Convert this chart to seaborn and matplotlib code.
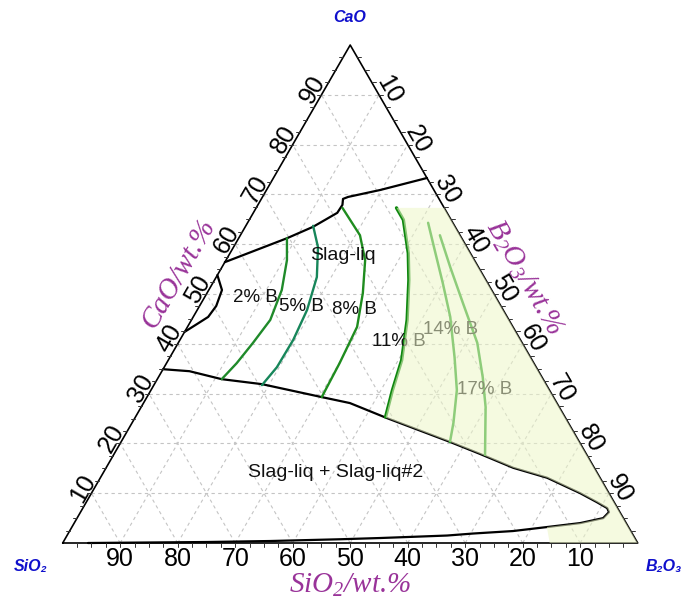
import numpy as np
import pandas as pd
import matplotlib
matplotlib.use("Agg")
import matplotlib.pyplot as plt
import seaborn as sns

# ---------------- data (wt.%) ----------------
# upper boundary of Slag-liq field
top_cao = [56.4, 61.2, 63.5, 66.3, 67.9, 69.1, 69.5, 70.9, 73.3]
top_b2o3 = [0.0, 8.4, 11.8, 14.6, 14.7, 14.2, 14.9, 19.8, 26.7]
# small lens near CaO-SiO2 edge
lens_cao = [53.8, 50.8, 47.6, 45.4, 44.0, 42.4]
lens_b2o3 = [0.0, 2.3, 2.9, 2.6, 1.4, 0.0]
# miscibility gap Slag-liq + Slag-liq#2 (upper branch, tip, lower branch)
gap_cao = [34.9, 34.5, 32.9, 31.9, 29.3, 28.1, 25.1, 20.3, 17.9, 15.1, 13.1, 10.0,
           8.2, 7.0, 6.2, 5.0, 4.0, 3.2, 2.4, 1.9, 1.5, 1.2, 1.0, 0.75, 0.4, 0.2, 0.0]
gap_b2o3 = [0.0, 4.8, 11.2, 18.7, 30.4, 35.9, 43.8, 57.2, 63.6, 70.8, 77.7, 85.0,
            88.8, 91.2, 91.9, 91.5, 88.0, 82.6, 77.1, 70.4, 66.1, 59.3, 54.7, 47.8, 35.9, 25.0, 4.4]
# B isopleths
iso_labels = ["2% B", "5% B", "8% B", "11% B", "14% B", "17% B"]
iso_cao = [
    [61.2, 56.8, 50.8, 44.8, 40.2, 36.1, 32.9],
    [63.7, 59.4, 53.4, 46.8, 40.8, 35.3, 31.7],
    [67.3, 61.8, 56.8, 50.2, 43.4, 36.1, 29.3],
    [67.3, 64.9, 58.2, 52.8, 44.8, 36.7, 30.7, 25.3],
    [64.3, 58.8, 52.2, 45.4, 37.3, 30.7, 24.1, 20.3],
    [61.8, 55.4, 48.2, 40.2, 33.3, 27.3, 17.7],
]
iso_b2o3 = [
    [8.4, 10.6, 12.7, 13.7, 13.0, 12.2, 11.2],
    [11.7, 14.7, 17.5, 19.1, 19.7, 19.6, 18.8],
    [15.0, 20.8, 24.2, 27.1, 29.5, 30.1, 30.4],
    [24.4, 26.8, 31.0, 33.8, 37.5, 40.6, 42.0, 43.5],
    [31.4, 35.3, 40.0, 44.7, 49.5, 53.2, 55.9, 57.2],
    [34.7, 39.7, 45.5, 52.0, 56.4, 59.9, 64.6],
]
# label anchor compositions (CaO, B2O3)
iso_lab_cao = [49.4, 47.4, 46.8, 40.4, 42.8, 30.9]
iso_lab_b2o3 = [8.8, 17.9, 27.4, 38.3, 46.0, 57.9]
# field labels
field_labels = ["Slag-liq", "Slag-liq + Slag-liq#2"]
field_cao = [57.8, 14.1]
field_b2o3 = [19.9, 40.4]
# shaded region top (CaO level) and where it leaves the lower branch to the base
shade_top_cao = 67.3
shade_base_b2o3 = 84.7
ticks_major = [10, 20, 30, 40, 50, 60, 70, 80, 90]

# ---------------- style ----------------
sns.set_theme(style="white")
plt.rcParams['font.family'] = ['Liberation Sans', 'DejaVu Sans']
plt.rcParams['mathtext.fontset'] = 'custom'
plt.rcParams['mathtext.rm'] = 'Liberation Serif:italic'
plt.rcParams['mathtext.it'] = 'Liberation Serif:italic'

SQ = np.sqrt(3) / 2


def tern(cao, b2o3):
    c = np.asarray(cao, float) / 100.0
    b = np.asarray(b2o3, float) / 100.0
    return b + c / 2, c * SQ


def px(xp, yp):
    return (xp - 62.7) / 575, (543 - yp) / 575


fig = plt.figure(figsize=(6.91, 6.04), dpi=100)
ax = fig.add_axes([0, 0, 1, 1])
ax.set_xlim(-62.7 / 575, (691 - 62.7) / 575)
ax.set_ylim(-(604 - 543) / 575, 543 / 575)
ax.axis('off')

# grid
gkw = dict(color='#c4c4c4', lw=0.8, ls=(0, (3, 3)), zorder=1)
for v in ticks_major:
    x, y = tern([v, v], [0, 100 - v]); ax.plot(x, y, **gkw)
    x, y = tern([0, 100 - v], [v, v]); ax.plot(x, y, **gkw)
    x, y = tern([0, 100 - v], [100 - v, 0]); ax.plot(x, y, **gkw)

# outline
x, y = tern([0, 0, 100, 0], [0, 100, 0, 0])
ax.plot(x, y, color='black', lw=1.2, zorder=5)

# small ticks every 2.5
tl = 4 / 575
for t in np.arange(2.5, 100, 2.5):
    x, y = tern(0, t); ax.plot([x, x], [y, y - tl], color='#333333', lw=0.7, zorder=5)
    x, y = tern(t, 0); ax.plot([x, x - tl], [y, y], color='#333333', lw=0.7, zorder=5)
    x, y = tern(100 - t, t); ax.plot([x, x + tl], [y, y], color='#333333', lw=0.7, zorder=5)

# tick labels
tkw = dict(fontsize=18, color='black', ha='center', va='center',
           textcoords='offset points', zorder=6)
for v in ticks_major:
    x, y = tern(0, 100 - v)   # SiO2 = v on base
    ax.annotate(str(v), (x, y), xytext=(0, -11.8), **tkw)
    x, y = tern(v, 0)         # CaO on left edge
    ax.annotate(str(v), (x, y), xytext=(-6.1, 3.6), rotation=60, **tkw)
    x, y = tern(100 - v, v)   # B2O3 on right edge
    ax.annotate(str(v), (x, y), xytext=(7.6, 3.6), rotation=-60, **tkw)


# phase boundaries
def line(cao, b2o3, color, lw, z=3):
    x, y = tern(cao, b2o3)
    sns.lineplot(x=x, y=y, sort=False, estimator=None, color=color,
                 linewidth=lw, ax=ax, legend=False, zorder=z)


line(top_cao, top_b2o3, 'black', 1.6)
line(lens_cao, lens_b2o3, 'black', 1.6)
line(gap_cao, gap_b2o3, 'black', 1.6)

iso_colors = ['#1f8a2a', '#17865a', '#1f8c1f', '#0e870e', '#1c9a1c', '#1c9a1c']
iso_lw = [1.7, 1.7, 1.7, 2.4, 1.8, 1.8]
for cc, bb, col, lw in zip(iso_cao, iso_b2o3, iso_colors, iso_lw):
    line(cc, bb, col, lw)

for lab, c, b in zip(iso_labels, iso_lab_cao, iso_lab_b2o3):
    x, y = tern(c, b)
    ax.text(x, y, lab, fontsize=13.5, ha='center', va='center', color='#111111', zorder=4)
for lab, c, b in zip(field_labels, field_cao, field_b2o3):
    x, y = tern(c, b)
    ax.text(x, y, lab, fontsize=14, ha='center', va='center', color='#111111', zorder=4)

# translucent shaded region (drawn on top)
i_start = 6   # gap point where the 11% isopleth meets the boundary
i_tip_end = 17
sc = list(iso_cao[3]) + gap_cao[i_start:i_tip_end + 1] + [0, 0, shade_top_cao, shade_top_cao]
sb = list(iso_b2o3[3]) + gap_b2o3[i_start:i_tip_end + 1] + [shade_base_b2o3, 100,
                                                           100 - shade_top_cao, iso_b2o3[3][0]]
x, y = tern(sc, sb)
ax.fill(x, y, color='#edf6c8', alpha=0.55, lw=0, zorder=7)

# vertex labels
vkw = dict(fontsize=11.5, fontweight='bold', style='italic', color='#1010cc',
           ha='center', va='center', family=['Liberation Sans', 'DejaVu Sans'])
ax.text(*px(350, 17), 'CaO', **vkw)
ax.text(*px(31, 567), 'SiO\u2082', **vkw)
ax.text(*px(664, 567), 'B\u2082O\u2083', **vkw)

# axis titles
akw = dict(fontsize=21, color='#993399', style='italic', family='Liberation Serif',
           ha='center', va='center')
ax.text(*px(350, 585), r'SiO$_2$/wt.%', **akw)
ax.text(*px(179, 274), 'CaO/wt.%', rotation=60, **akw)
ax.text(*px(524, 278), r'B$_2$O$_3$/wt.%', rotation=-60, **akw)

fig.savefig('out.png', dpi=100, facecolor='white')
